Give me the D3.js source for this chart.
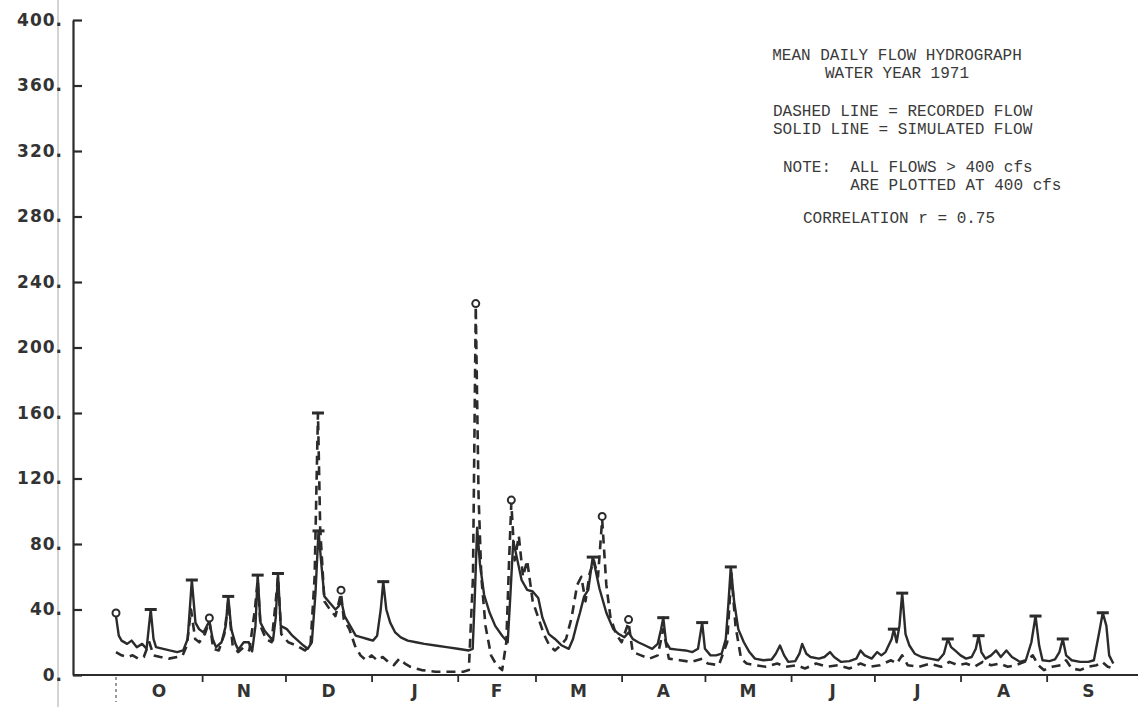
<!DOCTYPE html>
<html>
<head>
<meta charset="utf-8">
<script src="https://cdn.jsdelivr.net/npm/d3@7/dist/d3.min.js"></script>
<style>
  body { margin: 0; background: #fff; }
</style>
</head>
<body>
<div id="graph"></div>
<script>
// Mean daily flow hydrograph, water year 1971 (day 0 = Oct 1)

const monthLabels = ["O", "N", "D", "J", "F", "M", "A", "M", "J", "J", "A", "S"];
const monthStarts = [0, 31, 61, 92, 123, 151, 182, 212, 243, 273, 304, 335, 365];
const yTicks = [0, 40, 80, 120, 160, 200, 240, 280, 320, 360, 400];

const titleLines = [
  "MEAN DAILY FLOW HYDROGRAPH",
  "WATER YEAR 1971"
];
const legendLines = [
  "DASHED LINE = RECORDED FLOW",
  "SOLID LINE = SIMULATED FLOW"
];
const noteLines = [
  "NOTE:  ALL FLOWS > 400 cfs",
  "       ARE PLOTTED AT 400 cfs"
];
const correlationText = "CORRELATION r = 0.75";

// [day, cfs]
const simulated = [
  [0,36],[1,24],[2,21],[4,19],[5.6,21],[7.5,17],[9.4,19],[11,16],[12.5,40],[13.5,22],
  [14.4,17],[17,16],[19.3,15],[22,14],[24.2,15],[25.8,22],[27.3,58],[28.6,32],[29.9,28],[31.5,26],
  [33.6,33],[34.8,22],[36,17],[38,20],[39.5,30],[40.4,48],[41.5,28],[43,19],[44,15.5],[46,20],
  [47.8,20],[49,14.4],[50.2,30],[51,61],[52,32],[53.5,27],[55,24],[56.5,21],[57.5,35],[58.3,62],
  [59.3,30],[61.5,28],[63.5,24],[65.5,21],[67.5,18],[69,16],[70.5,20],[71.8,50],[72.9,88],[73.8,70],
  [75,48],[77,44],[79,40],[80.2,42],[81,46],[82.3,36],[84.3,30],[86.3,24],[88.5,23],[90.5,22],
  [92.5,21],[94,24],[95.3,40],[96.2,57],[97.3,40],[98.7,32],[100.5,26],[102.5,23],[105,21],[108,20],
  [111,19],[115,18],[119,17],[123,16],[127,15],[128.4,16],[129.2,50],[130,90],[131,68],[132.5,49],
  [134.5,38],[136.5,30],[139,24],[141,20],[142,50],[143,82],[144.5,70],[146,58],[148,52],[150,51],
  [152,47],[153.5,35],[155.8,25],[158,22],[160.5,18],[163,16],[164.5,22],[166,32],[167,38],[168.5,48],
  [170,52],[171.6,72],[172.5,65],[174,53],[176.5,38],[179,28],[181,25],[183,23],[184.5,26],[186,22],
  [188,20],[190.5,18],[193,16],[195,19],[196.2,28],[197,35],[198,20],[199.5,16],[202,15.5],[205,15],
  [207.5,14],[209.5,16],[211,32],[212,16],[214,12],[216,12],[218,13],[219.5,22],[220.5,45],[221.3,66],
  [222.5,45],[224,28],[226,20],[228,14],[230,10],[233,9],[236,9.5],[237.5,13],[239,18],[240.5,12],
  [242,8],[244.5,8.5],[246,13],[247,19],[248.5,13],[250,11],[253,10],[255,11],[257,14],[258.5,11],
  [261,8],[264,8.5],[266.5,10],[268,15],[269.5,12],[272,10],[274,14],[275.5,12],[277,14],[279.2,22],
  [280,28],[281,20],[282,30],[283,50],[284.2,25],[285.6,18],[287.5,13],[290,11],[293,10],[296,9],
  [298,13],[299.4,22],[300.6,17],[302,15],[304,12],[306,10],[308,11],[309.5,16],[310.5,24],[311.5,14],
  [313,10],[315,12],[316.8,15],[318.5,11],[320.5,15],[322.5,11],[325.4,8],[327.5,9],[329.5,20],[331,36],
  [332.3,18],[333.5,9],[336,8.5],[338,9.5],[339.6,14],[340.8,22],[342,12],[344,9],[347,8],[350,8],
  [352,9],[353.8,25],[355.2,38],[356.5,30],[357.5,12],[359,7]
];

const recorded = [
  [0,14],[2,12],[4,11],[6,12],[8,10],[10,11],[12,20],[13.5,12],[16,11],[19,10],
  [22,11],[24,12],[25.5,18],[27,40],[28.5,22],[30,20],[32,25],[33.6,33],[35,16],[37,15],
  [39,25],[40.4,45],[42,18],[44,14],[46,17],[48,15],[50,40],[51,58],[52,30],[54,22],
  [56,20],[57.5,45],[58.3,60],[59.5,25],[62,20],[65,18],[68,15],[70,18],[71.5,60],[72.7,160],
  [73.5,90],[75,45],[77,40],[79,36],[81,50],[82,34],[84,28],[86,18],[88,12],[90,9],
  [92,12],[94,9],[96,11],[98,8],[100,6],[102,10],[104,7],[106,5],[110,3],[115,2],
  [120,2],[125,2],[127,3],[128.5,60],[129.5,225],[130.5,110],[131.5,60],[133,30],[135,12],[137,6],
  [139,3],[140.5,20],[141.5,70],[142.3,105],[143.5,70],[145,85],[146.5,60],[148,70],[150,45],[152,35],
  [154,25],[156,18],[158,15],[160,18],[162,22],[164,35],[166,55],[167.5,60],[169,45],[170.5,62],
  [172,70],[173.5,60],[175,95],[176.5,55],[178,35],[180,25],[182,20],[184.5,32],[186,14],[189,12],
  [192,10],[195,12],[197,28],[199,10],[203,9],[207,8],[211,10],[213,7],[217,6],[220,20],
  [221.5,62],[223,30],[225,10],[227,7],[230,6],[234,5],[238,7],[241,5],[245,6],[248,4],
  [252,7],[256,5],[260,6],[264,4],[268,7],[271,5],[275,6],[279,9],[281,7],[283,12],
  [285,6],[289,5],[293,7],[297,5],[300,8],[303,6],[306,7],[309,5],[312,8],[315,6],
  [318,7],[321,5],[324,6],[327,8],[330,12],[332,6],[334,3],[337,5],[340,6],[342,9],
  [344,4],[347,3],[350,5],[353,6],[355,8],[357,5],[359,4]
];

// plotter symbols sitting on peaks
const barCaps = [
  [12.5,40],[27.3,58],[40.4,48],[51,61],[58.3,62],[72.7,160],[72.9,88],[96.2,57],[171.6,72],[197,35],
  [211,32],[221.3,66],[280,28],[283,50],[299.4,22],[310.5,24],[331,36],[340.8,22],[355.2,38]
];
const ringCaps = [
  [0,36],[33.6,33],[81,50],[129.5,225],[142.3,105],[175,95],[184.5,32]
];

let svg = d3.select("#graph").append("svg")
  .attr("width", 1138)
  .attr("height", 707)
  .style("background", "#fff");

let xScale = d3.scaleLinear()
  .domain([0, 365])
  .range([116, 1130]);

let yScale = d3.scaleLinear()
  .domain([0, 400])
  .range([675, 20]);

const ink = "#2b2b2b";

// scanner page edge
svg.append("line")
  .attr("x1", 58).attr("x2", 58)
  .attr("y1", 0).attr("y2", 707)
  .attr("stroke", "#a8a8a8")
  .attr("stroke-width", 1);

// y axis
let yAxis = d3.axisLeft(yScale)
  .tickValues(yTicks)
  .tickSizeInner(-9)
  .tickSizeOuter(0)
  .tickPadding(10)
  .tickFormat(function (d) { return d + "."; });

let gy = svg.append("g")
  .attr("transform", "translate(73,0)")
  .call(yAxis);
gy.select(".domain").attr("stroke", ink).attr("stroke-width", 2.2);
gy.selectAll(".tick line").attr("stroke", ink).attr("stroke-width", 2.2);
gy.selectAll(".tick text")
  .attr("fill", "#333")
  .style("font-family", "'DejaVu Sans', sans-serif")
  .style("font-weight", "bold")
  .style("font-size", "17px")
  .style("letter-spacing", "1px");

// x axis
svg.append("line")
  .attr("x1", 73).attr("x2", 1138)
  .attr("y1", 675).attr("y2", 675)
  .attr("stroke", ink)
  .attr("stroke-width", 2.2);

let xAxis = d3.axisBottom(xScale)
  .tickValues(monthStarts.slice(1, 12))
  .tickSize(7)
  .tickFormat("");

let gx = svg.append("g")
  .attr("transform", "translate(0,675)")
  .call(xAxis);
gx.select(".domain").remove();
gx.selectAll(".tick line").attr("stroke", ink).attr("stroke-width", 1.8);

svg.append("line")
  .attr("x1", xScale(0)).attr("x2", xScale(0))
  .attr("y1", 677).attr("y2", 702)
  .attr("stroke", "#555")
  .attr("stroke-width", 1.2)
  .attr("stroke-dasharray", "3,3");

svg.selectAll(".month")
  .data(monthLabels)
  .enter()
  .append("text")
  .attr("class", "month")
  .attr("x", function (d, i) {
    return xScale((monthStarts[i] + monthStarts[i + 1]) / 2);
  })
  .attr("y", 697)
  .attr("text-anchor", "middle")
  .attr("fill", "#333")
  .style("font-family", "'DejaVu Sans', sans-serif")
  .style("font-weight", "bold")
  .style("font-size", "17px")
  .text(function (d) { return d; });

// the two hydrographs
let line = d3.line()
  .x(function (d) { return xScale(d[0]); })
  .y(function (d) { return yScale(d[1]); });

svg.append("path")
  .datum(recorded)
  .attr("d", line)
  .attr("fill", "none")
  .attr("stroke", ink)
  .attr("stroke-width", 2.6)
  .attr("stroke-dasharray", "9,6")
  .attr("stroke-linejoin", "round");

svg.append("path")
  .datum(simulated)
  .attr("d", line)
  .attr("fill", "none")
  .attr("stroke", ink)
  .attr("stroke-width", 2.4)
  .attr("stroke-linejoin", "round");

svg.selectAll(".bar-cap")
  .data(barCaps)
  .enter()
  .append("line")
  .attr("class", "bar-cap")
  .attr("x1", function (d) { return xScale(d[0]) - 6; })
  .attr("x2", function (d) { return xScale(d[0]) + 6; })
  .attr("y1", function (d) { return yScale(d[1]); })
  .attr("y2", function (d) { return yScale(d[1]); })
  .attr("stroke", ink)
  .attr("stroke-width", 3);

svg.selectAll(".ring-cap")
  .data(ringCaps)
  .enter()
  .append("circle")
  .attr("class", "ring-cap")
  .attr("cx", function (d) { return xScale(d[0]); })
  .attr("cy", function (d) { return yScale(d[1]) - 3; })
  .attr("r", 3.5)
  .attr("fill", "#fff")
  .attr("stroke", ink)
  .attr("stroke-width", 2);

// printed text block
function printed(lines, x0, y0, anchor) {
  svg.selectAll(null)
    .data(lines)
    .enter()
    .append("text")
    .attr("x", x0)
    .attr("y", function (d, i) { return y0 + i * 18; })
    .attr("text-anchor", anchor)
    .attr("fill", "#3a3a3a")
    .style("font-family", "'Liberation Mono', 'DejaVu Sans Mono', monospace")
    .style("font-size", "16px")
    .style("white-space", "pre")
    .text(function (d) { return d; });
}

printed(titleLines, 897, 60, "middle");
printed(legendLines, 773, 116, "start");
printed(noteLines, 783, 172, "start");
printed([correlationText], 803, 223, "start");
</script>
</body>
</html>
